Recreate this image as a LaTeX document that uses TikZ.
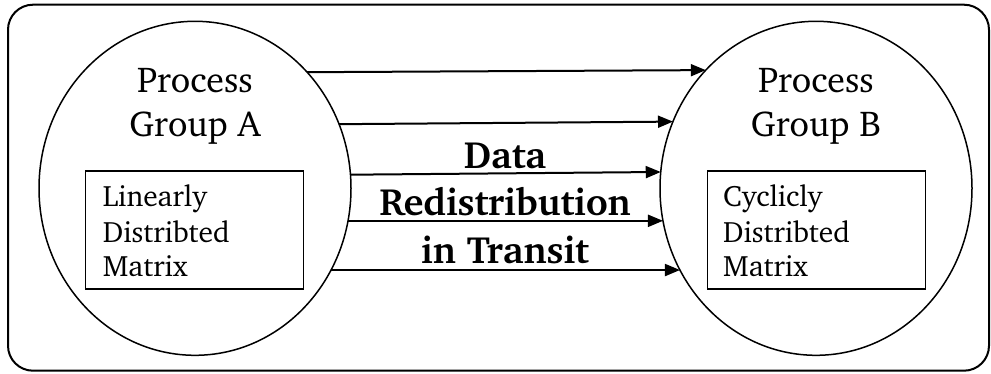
\documentclass[tikz,border=0pt]{standalone}
\usepackage[T1]{fontenc}
\usepackage{charter}
\usetikzlibrary{shapes.geometric,arrows.meta}

\tikzset{
  frame/.style={draw, line width=2pt, rounded corners=25pt},
  group/.style={draw, ellipse, line width=1.5pt, inner sep=0pt, outer sep=0pt,
    minimum width=312pt, minimum height=334pt},
  matrixbox/.style={draw, rectangle, line width=1.8pt, inner sep=0pt,
    minimum width=218pt, minimum height=118pt},
  title/.style={anchor=base, inner sep=0pt, font=\fontsize{36}{44}\selectfont},
  boxtext/.style={anchor=base west, inner sep=0pt, font=\fontsize{29.5}{35}\selectfont},
  transit/.style={anchor=base, inner sep=0pt, font=\bfseries\fontsize{38}{46}\selectfont},
  flow/.style={line width=2pt, -{Triangle[length=15pt,width=12pt]}},
}

\begin{document}
\begin{tikzpicture}[x=1pt, y=1pt]
  \useasboundingbox (0,0) rectangle (991,373);

  % outer frame
  \draw[frame] (8,2.3) rectangle (989,368.3);

  % the two process groups
  \node[group] (A) at (195,184.7) {};
  \node[group] (B) at (816,184.7) {};

  \node[title] (pA1) at (195,280.7) {Process};
  \node[title] (pA2) at (195,236.3) {Group A};
  \node[title] (pB1) at (816,280.7) {Process};
  \node[title] (pB2) at (816,236.3) {Group B};

  % matrices held by each group
  \node[matrixbox] (mA) at (194.5,143) {};
  \node[matrixbox] (mB) at (816.5,143) {};

  \node[boxtext] (mA1) at (102.7,166.3) {Linearly};
  \node[boxtext] (mA2) at (102.7,131) {Distribted};
  \node[boxtext] (mA3) at (102.7,96.3) {Matrix};
  \node[boxtext] (mB1) at (723,166.3) {Cyclicly};
  \node[boxtext] (mB2) at (723,131) {Distribted};
  \node[boxtext] (mB3) at (723,96.3) {Matrix};

  % data moving from group A to group B
  \draw[flow] (A.46.09) -- (B.133.91);
  \draw[flow] (A.24.84) -- (B.155.16);
  \draw[flow] (A.5.99) -- (B.174.01);
  \draw[flow] (A.-12.44) -- (B.192.44);
  \draw[flow] (A.-31.80) -- (B.211.80);

  \node[transit] (t1) at (505,204.3) {Data};
  \node[transit] (t2) at (505,157.7) {Redistribution};
  \node[transit] (t3) at (505,110) {in Transit};
\end{tikzpicture}
\end{document}
